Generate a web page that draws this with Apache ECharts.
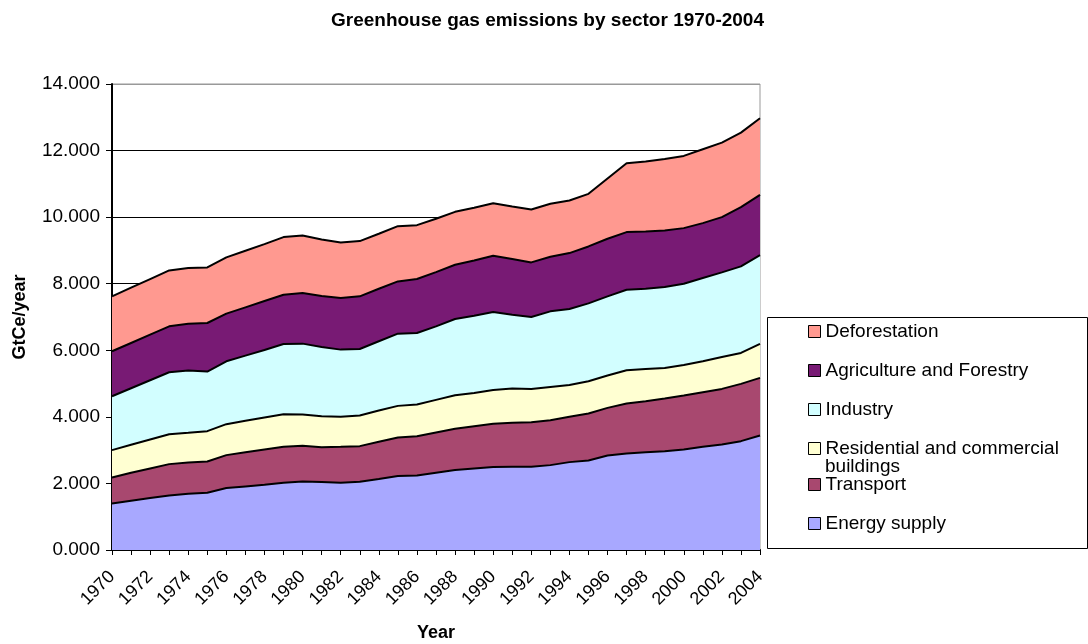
<!DOCTYPE html>
<html>
<head>
<meta charset="utf-8">
<script src="https://cdn.jsdelivr.net/npm/echarts@6/dist/echarts.min.js"></script>
<style>
  html, body { margin: 0; padding: 0; background: #fff; }
  #chart { width: 1088px; height: 644px; }
</style>
</head>
<body>
<div id="chart"></div>
<script>
// Greenhouse gas emissions by sector, GtCe/year, stacked
const years = [
  '1970','1971','1972','1973','1974','1975','1976','1977','1978','1979',
  '1980','1981','1982','1983','1984','1985','1986','1987','1988','1989',
  '1990','1991','1992','1993','1994','1995','1996','1997','1998','1999',
  '2000','2001','2002','2003','2004'
];

const energySupply = [
  1.40,1.48,1.56,1.64,1.69,1.72,1.86,1.91,1.96,2.02,
  2.06,2.04,2.02,2.05,2.13,2.22,2.24,2.32,2.40,2.45,
  2.49,2.50,2.50,2.55,2.64,2.69,2.84,2.90,2.94,2.97,
  3.02,3.10,3.17,3.27,3.44
];
const transport = [
  0.78,0.84,0.89,0.94,0.94,0.94,0.99,1.03,1.06,1.08,
  1.07,1.05,1.08,1.07,1.12,1.16,1.18,1.21,1.24,1.27,
  1.30,1.32,1.34,1.35,1.36,1.41,1.43,1.50,1.53,1.58,
  1.62,1.64,1.67,1.72,1.73
];
const residential = [
  0.82,0.84,0.87,0.90,0.89,0.91,0.93,0.94,0.96,0.98,
  0.94,0.93,0.90,0.92,0.94,0.95,0.95,0.98,1.01,1.00,
  1.02,1.03,1.00,1.00,0.96,0.97,0.97,1.00,0.97,0.92,
  0.92,0.93,0.96,0.93,1.02
];
const industry = [
  1.62,1.70,1.78,1.86,1.87,1.79,1.89,1.96,2.03,2.11,
  2.13,2.08,2.02,2.00,2.08,2.17,2.15,2.21,2.29,2.32,
  2.34,2.22,2.16,2.27,2.28,2.34,2.38,2.42,2.41,2.43,
  2.44,2.50,2.54,2.60,2.67
];
const agriculture = [
  1.35,1.36,1.37,1.38,1.41,1.46,1.43,1.45,1.47,1.48,
  1.52,1.53,1.55,1.58,1.58,1.57,1.62,1.63,1.63,1.66,
  1.69,1.67,1.64,1.64,1.68,1.71,1.73,1.73,1.72,1.70,
  1.67,1.65,1.66,1.78,1.81
];
const deforestation = [
  1.65,1.66,1.67,1.68,1.67,1.67,1.69,1.70,1.71,1.73,
  1.73,1.70,1.67,1.66,1.65,1.66,1.62,1.60,1.59,1.58,
  1.58,1.58,1.59,1.59,1.58,1.58,1.81,2.07,2.10,2.15,
  2.17,2.22,2.24,2.24,2.30
];

const FONT = '"Liberation Sans", Arial, sans-serif';

// bottom-to-top stacking order
const layers = [
  { name: 'Energy supply', data: energySupply, color: '#A8A8FF' },
  { name: 'Transport', data: transport, color: '#A8486F' },
  { name: 'Residential and commercial buildings', data: residential, color: '#FFFFD2' },
  { name: 'Industry', data: industry, color: '#D2FEFF' },
  { name: 'Agriculture and Forestry', data: agriculture, color: '#781A74' },
  { name: 'Deforestation', data: deforestation, color: '#FF9990' }
];

const series = layers.map(l => ({
  name: l.name,
  type: 'line',
  stack: 'total',
  data: l.data,
  showSymbol: false,
  symbol: 'none',
  itemStyle: { color: l.color },
  lineStyle: { color: '#000', width: 2 },
  areaStyle: { color: l.color, opacity: 1 },
  emphasis: { disabled: true },
  animation: false
}));

const legendCommon = {
  orient: 'vertical',
  left: 803,
  itemWidth: 12,
  itemHeight: 12,
  itemGap: 20,
  icon: 'rect',
  selectedMode: false,
  itemStyle: { borderColor: '#000', borderWidth: 1 },
  textStyle: { fontFamily: FONT, fontSize: 19, color: '#000', lineHeight: 18 }
};

const chart = echarts.init(document.getElementById('chart'), null, { renderer: 'canvas' });
chart.setOption({
  animation: false,
  backgroundColor: '#fff',
  title: {
    text: 'Greenhouse gas emissions by sector 1970-2004',
    left: 326,
    top: 6,
    textStyle: { fontFamily: FONT, fontSize: 19, fontWeight: 'bold', color: '#000' }
  },
  grid: {
    left: 112, right: 328, top: 84, bottom: 94,
    outerBoundsMode: 'none',
    containLabel: false,
    show: true, borderColor: '#999', borderWidth: 1, backgroundColor: 'transparent'
  },
  graphic: [
    {
      type: 'rect', z: 0,
      shape: { x: 767.5, y: 317.5, width: 320, height: 231 },
      style: { fill: '#fff', stroke: '#000', lineWidth: 1 }
    },
    {
      type: 'text', z: 5,
      left: 825, top: 457,
      style: { text: 'buildings', font: '19px ' + FONT, fill: '#000' }
    }
  ],
  legend: [
    Object.assign({}, legendCommon, {
      top: 317,
      data: ['Deforestation', 'Agriculture and Forestry', 'Industry', 'Residential and commercial buildings'],
      formatter: n => n === 'Residential and commercial buildings' ? 'Residential and commercial' : n
    }),
    Object.assign({}, legendCommon, {
      top: 470,
      data: ['Transport', 'Energy supply']
    })
  ],
  xAxis: {
    type: 'category',
    data: years,
    boundaryGap: false,
    name: 'Year',
    nameLocation: 'middle',
    nameGap: 74,
    nameTextStyle: { fontFamily: FONT, fontSize: 18, fontWeight: 'bold', color: '#000' },
    axisLine: { show: true, lineStyle: { color: '#000', width: 2 } },
    axisTick: { show: true, interval: 0, length: 5, lineStyle: { color: '#000' } },
    axisLabel: {
      interval: 1, rotate: 45, margin: 24,
      fontFamily: FONT, fontSize: 18, color: '#000'
    },
    splitLine: { show: false }
  },
  yAxis: {
    type: 'value',
    min: 0, max: 14, interval: 2,
    name: 'GtCe/year',
    nameLocation: 'middle',
    nameGap: 83,
    nameTextStyle: { fontFamily: FONT, fontSize: 18, fontWeight: 'bold', color: '#000' },
    axisLine: { show: true, lineStyle: { color: '#000', width: 2 } },
    axisTick: { show: true, length: 6, lineStyle: { color: '#000' } },
    axisLabel: {
      margin: 12, fontFamily: FONT, fontSize: 19, color: '#000',
      formatter: v => v.toFixed(3)
    },
    splitLine: {
      show: true,
      lineStyle: { color: ['#000','#000','#000','#000','#000','#000','#000','#999'], width: 1 }
    }
  },
  series: series
});
</script>
</body>
</html>
